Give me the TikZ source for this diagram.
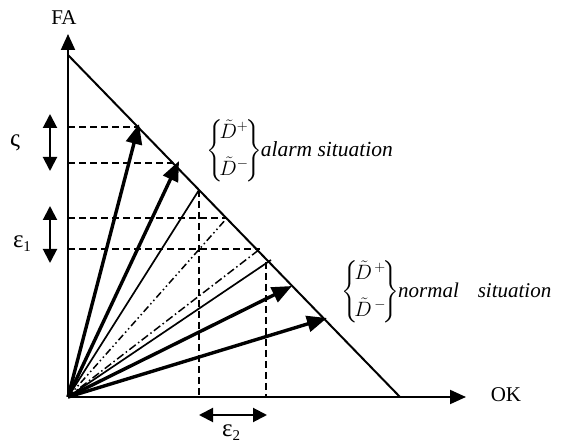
\documentclass[tikz,border=0pt]{standalone}
\usepackage{amsmath}
\usepackage{fontspec}
\setmainfont{Liberation Serif}
\usetikzlibrary{arrows.meta}
\begin{document}
\begin{tikzpicture}[x=1pt,y=-1pt,
 axis/.style={line width=2pt,-{Triangle[length=16pt,width=14pt]}},
 diag/.style={line width=2pt},
 guide/.style={line width=1.5pt,dash pattern=on 7pt off 4pt},
 thinray/.style={line width=1.7pt},
 thickray/.style={line width=3.4pt,-{Triangle[length=20pt,width=16pt]}},
 ddot/.style={line width=1.5pt,dash pattern=on 7pt off 3pt on 1.5pt off 3pt on 1.5pt off 3pt},
 dashdot/.style={line width=1.5pt,dash pattern=on 8pt off 3pt on 1.5pt off 3pt},
 dbl/.style={line width=2pt,{Triangle[length=14pt,width=14pt]}-{Triangle[length=14pt,width=14pt]}},
 lbl/.style={font=\fontsize{21}{23}\selectfont, inner sep=0pt},
 glbl/.style={font=\fontsize{25}{27}\selectfont, inner sep=0pt},
 mlbl/.style={font=\fontsize{22}{24}\selectfont, inner sep=0pt}
]
\useasboundingbox (0,0) rectangle (563,443);
% axes
\coordinate (O) at (68,397);
\coordinate (FAtip) at (68,34);
\coordinate (OKtip) at (466,397);
\draw[axis] (O) -- (FAtip);
\draw[axis] (O) -- (OKtip);
\node[lbl] (FA) at (64,18) {FA};
\node[lbl] (OK) at (506,395) {OK};
% diagonal
\coordinate (Dtop) at (68,55);
\coordinate (Dbot) at (400,397);
\draw[diag] (Dtop) -- (Dbot);
% points on diagonal
\coordinate (P1) at (139,124);
\coordinate (P2) at (179,161);
\coordinate (P3) at (199,190);
\coordinate (P4) at (227,218);
\coordinate (P5) at (260,249);
\coordinate (P6) at (271,260);
\coordinate (P6v) at (266,262);
\coordinate (P7) at (292,286);
\coordinate (P8) at (327,318);
% axis feet and guide ends
\coordinate (G1) at (138,127);
\coordinate (G2) at (173,163);
\coordinate (Y1) at (68,127);
\coordinate (Y2) at (68,163);
\coordinate (Y4) at (68,218);
\coordinate (Y5) at (68,249);
\coordinate (X3) at (199,397);
\coordinate (X6) at (266,397);
% dashed guides
\draw[guide] (Y1) -- (G1);
\draw[guide] (Y2) -- (G2);
\draw[guide] (Y4) -- (P4);
\draw[guide] (Y5) -- (P5);
\draw[guide] (P3) -- (X3);
\draw[guide] (P6v) -- (X6);
% rays
\draw[thickray] (O) -- (P1);
\draw[thickray] (O) -- (P2);
\draw[thinray] (O) -- (P3);
\draw[ddot] (O) -- (P4);
\draw[dashdot] (O) -- (P5);
\draw[thinray] (O) -- (P6);
\draw[thickray] (O) -- (P7);
\draw[thickray] (O) -- (P8);
% double arrows
\coordinate (S1) at (50,114);
\coordinate (S2) at (50,171);
\draw[dbl] (S1) -- (S2);
\node[glbl] (sig) at (15,143) {ς};
\coordinate (E1a) at (50,206);
\coordinate (E1b) at (50,263);
\draw[dbl] (E1a) -- (E1b);
\node[glbl] (eps1) at (22,244) {ε\raisebox{-0.35ex}{\fontsize{15}{16}\selectfont 1}};
\coordinate (E2a) at (199,415);
\coordinate (E2b) at (267,415);
\draw[dbl] (E2a) -- (E2b);
\node[glbl] (eps2) at (231,433) {ε\raisebox{-0.35ex}{\fontsize{15}{16}\selectfont 2}};
% labels
\node[mlbl,anchor=west] (alarm) at (206,151)
 {$\left\{\!\begin{array}{@{}c@{}}\tilde{D}^{+}\\[11pt]\tilde{D}^{-}\end{array}\!\right\}$\kern-1pt{\fontsize{21.5}{23}\selectfont\itshape alarm situation}};
\node[mlbl,anchor=west] (normal) at (341,292)
 {$\left\{\!\begin{array}{@{}c@{}}\tilde{D}^{\,+}\\[11pt]\tilde{D}^{\,-}\end{array}\!\right\}$\kern-1pt{\fontsize{21}{23}\selectfont\itshape normal\hspace{0.9em}situation}};
\end{tikzpicture}
\end{document}
